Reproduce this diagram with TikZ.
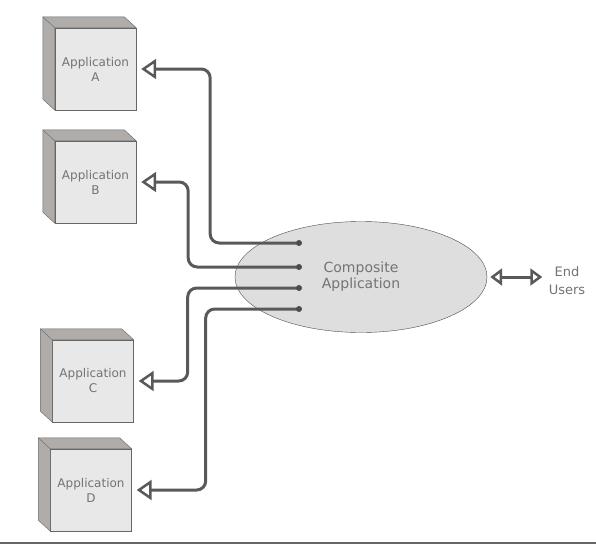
\documentclass[tikz,border=0pt]{standalone}
\usepackage{fontspec}
\setsansfont{DejaVu Sans}
\usetikzlibrary{arrows.meta,positioning,calc,shapes.geometric}

\begin{document}
\begin{tikzpicture}[x=1pt, y=-1pt, font=\sffamily, app/.style={draw=black!60, fill=black!9, minimum width=81pt, minimum height=82pt, inner sep=0pt, align=center, text=black!55, font=\sffamily\fontsize{12}{15}\selectfont}, side/.style={draw=black!60, fill=brown!15!black!35}, conn/.style={-{Triangle[open, length=15pt, width=20pt, line width=2.5pt]}, line width=3pt, draw=black!65, rounded corners=9pt, shorten >=5pt}, dbl/.style={{Triangle[open, length=12pt, width=17pt, line width=2.5pt]}-{Triangle[open, length=12pt, width=17pt, line width=2.5pt]}, line width=3pt, draw=black!65, shorten <=3pt, shorten >=3pt}]
\useasboundingbox (0,0) rectangle (596,546);
\node[app] (appA) at (95.5,69) {Application\\A};
\node[app] (appB) at (95.5,182) {Application\\B};
\node[app] (appC) at (93,381) {Application\\C};
\node[app] (appD) at (91,490) {Application\\D};
\foreach \n in {appA,appB,appC,appD} {
  \filldraw[side] (\n.north east) -- ++(-12,-11) -- ($(\n.north west)+(-12,-11)$) -- ($(\n.south west)+(-12,-11)$) -- (\n.south west) -- (\n.north west) -- cycle;
  \draw[black!60] (\n.north west) -- ++(-12,-11);
}
\node[ellipse, draw=black!70, fill=black!13, minimum width=252pt, minimum height=111pt, align=center, text=black!55, font=\sffamily\fontsize{14}{16}\selectfont] (comp) at (361,277) {Composite\\Application};
\node[align=center, text=black!55, font=\sffamily\fontsize{13}{18}\selectfont] (users) at (567,281) {End\\Users};
\coordinate (c1) at (299,243);
\coordinate (c2) at (299,267);
\coordinate (c3) at (299,288);
\coordinate (c4) at (299,309);
\draw[conn] (c1) -| ($(appA.east)+(74,0)$) -- (appA.east);
\draw[conn] (c2) -| ($(appB.east)+(52,0)$) -- (appB.east);
\draw[conn] (c3) -| ($(appC.east)+(54,0)$) -- (appC.east);
\draw[conn] (c4) -| ($(appD.east)+(74,0)$) -- (appD.east);
\foreach \c in {c1,c2,c3,c4} \fill[black!70] (\c) circle (3pt);
\draw[dbl] (comp.east) -- (comp.east -| users.west);
\draw[black!60, line width=1.5pt] (0,543) -- (596,543);
\end{tikzpicture}
\end{document}
